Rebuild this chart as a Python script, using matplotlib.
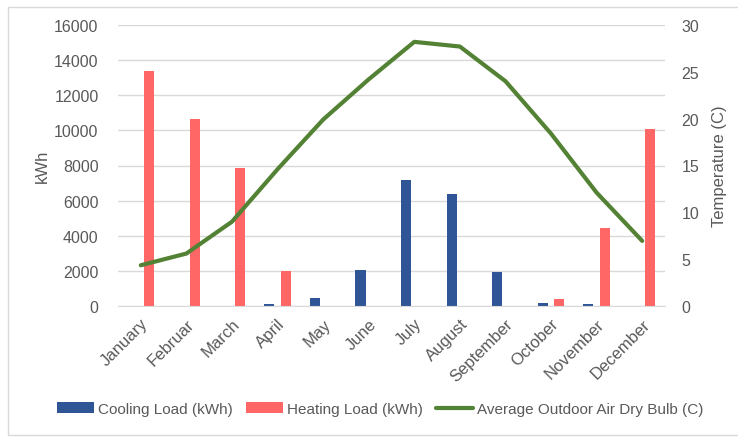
import matplotlib
matplotlib.use("Agg")
import matplotlib.pyplot as plt
from matplotlib.patches import Rectangle
import numpy as np

months = ["January", "Februar", "March", "April", "May", "June", "July",
          "August", "September", "October", "November", "December"]
cooling = [0, 0, 0, 100, 450, 2070, 7200, 6350, 1960, 170, 100, 0]
heating = [13400, 10650, 7880, 2000, 0, 0, 0, 0, 0, 380, 4450, 10050]
temperature = [4.35, 5.6, 9.0, 14.6, 19.9, 24.2, 28.2, 27.7, 24.0, 18.4, 12.1, 6.95]

plt.rcParams['font.family'] = ['Liberation Sans', 'DejaVu Sans']

fig = plt.figure(figsize=(7.38, 4.39), dpi=100)
W, H = 738, 439
ax = fig.add_axes([118 / W, 1 - 307 / H, (665 - 118) / W, (307 - 26) / H])
ax2 = ax.twinx()

x = np.arange(len(months))
bw = 0.22
off = 0.18
ax.bar(x - off, cooling, width=bw, color="#2F5597", label="Cooling Load (kWh)", zorder=2)
ax.bar(x + off, heating, width=bw, color="#FF6666", label="Heating Load (kWh)", zorder=2)
ax2.plot(x, temperature, color="#548235", lw=3, label="Average Outdoor Air Dry Bulb (C)",
         solid_capstyle="round", zorder=3)

ax.set_xlim(-0.5, 11.5)
ax.set_ylim(0, 16000)
ax.set_yticks(np.arange(0, 16001, 2000))
ax2.set_ylim(0, 30)
ax2.set_yticks(np.arange(0, 31, 5))

ax.grid(axis="y", color="#D9D9D9", lw=1, zorder=0)
ax.set_axisbelow(True)
for a in (ax, ax2):
    for s in a.spines.values():
        s.set_visible(False)
    a.tick_params(length=0, colors="#595959", labelsize=11.5)
ax.spines["bottom"].set_visible(True)
ax.spines["bottom"].set_color("#D9D9D9")

ax.set_xticks(x)
ax.set_xticklabels(months, rotation=45, ha="right", rotation_mode="anchor", fontsize=12)
ax.tick_params(axis="y", pad=14)
ax2.tick_params(axis="y", pad=12)
ax.tick_params(axis="x", pad=7)

ax.set_ylabel("kWh", color="#595959", fontsize=12, labelpad=3)
ax2.set_ylabel("Temperature (C)", color="#595959", fontsize=12, labelpad=9)

h1, l1 = ax.get_legend_handles_labels()
h2, l2 = ax2.get_legend_handles_labels()
fig.legend(h1 + h2, l1 + l2, loc="center", bbox_to_anchor=(0.515, 1 - 410 / H), ncol=3,
           frameon=False, fontsize=11, labelcolor="#595959", handlelength=2.4,
           handletextpad=0.25, columnspacing=0.9)

fig.patches.append(Rectangle((8 / W, 1 - 436 / H), 1.0, (436 - 8) / H, transform=fig.transFigure,
                             fill=False, edgecolor="#D9D9D9", lw=1))

fig.savefig("out.png", dpi=100, facecolor="white")
